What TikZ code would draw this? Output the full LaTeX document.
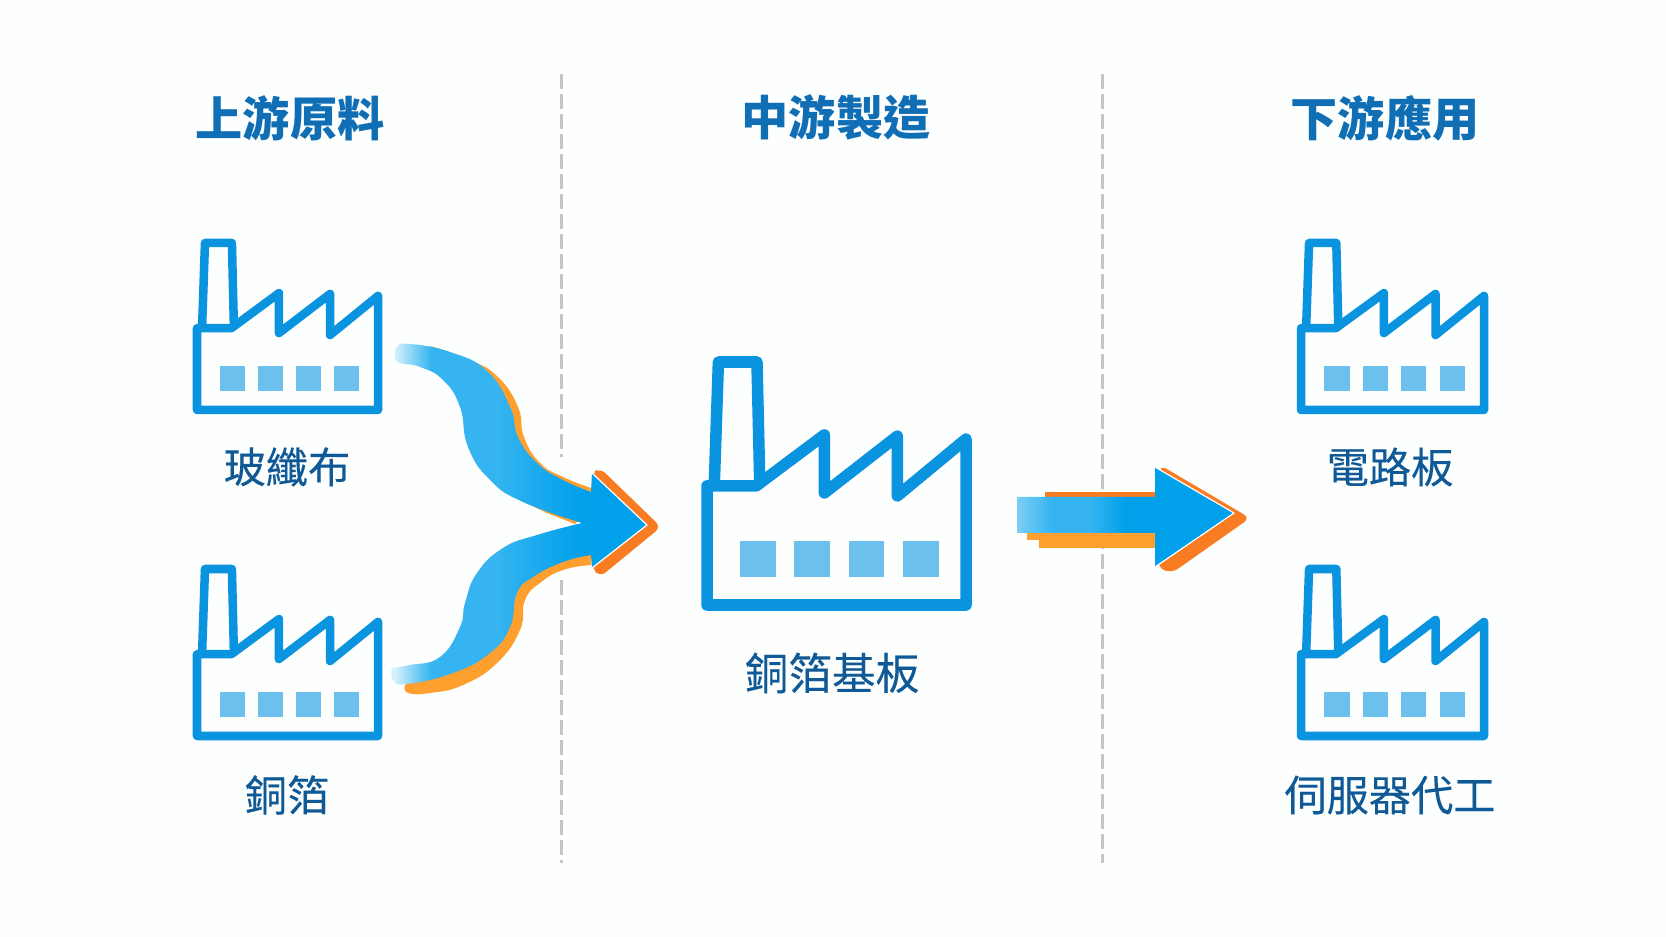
\documentclass[tikz,border=0pt]{standalone}
\usepackage{fontspec}
\setmainfont{Noto Sans CJK TC}
\newfontfamily\labelfont[FakeBold=.25]{Noto Sans CJK TC}
\definecolor{pagewhite}{HTML}{FDFEFE}
\definecolor{iconblue}{HTML}{0A93DF}
\definecolor{windowblue}{HTML}{6CC0EE}
\definecolor{flowblue}{HTML}{00A0EA}
\definecolor{flowsky}{HTML}{35B4F1}
\definecolor{flowpale}{HTML}{D4F0FC}
\definecolor{flowmid}{HTML}{7CCFF5}
\definecolor{floworange}{HTML}{FF9F2E}
\definecolor{headorange}{HTML}{F97B22}
\definecolor{titleblue}{HTML}{0F6EB4}
\definecolor{labelblue}{HTML}{0F5A96}
\definecolor{dashgray}{HTML}{C6C6C6}
\pgfdeclarehorizontalshading{mergeshade}{100bp}{color(0bp)=(flowpale); color(26bp)=(flowpale); color(33bp)=(flowsky); color(46bp)=(flowsky); color(62bp)=(flowblue); color(100bp)=(flowblue)}
\pgfdeclarehorizontalshading{straightshade}{100bp}{color(0bp)=(flowmid); color(25bp)=(flowmid); color(33bp)=(flowsky); color(42bp)=(flowsky); color(50bp)=(flowblue); color(100bp)=(flowblue)}
\tikzset{
  pics/factory/.style={code={
    \fill[windowblue] (.127,.114) rectangle (.265,.263);
    \fill[windowblue] (.337,.114) rectangle (.475,.263);
    \fill[windowblue] (.547,.114) rectangle (.685,.263);
    \fill[windowblue] (.757,.114) rectangle (.895,.263);
    \draw[iconblue,line join=round] (.028,.49)--(.044,1)--(.193,1)--(.204,.49);
    \draw[iconblue,line join=round] (0,0)--(0,.49)--(.19,.49)--(.453,.70)--(.453,.461)--(.735,.695)--(.735,.449)--(1,.683)--(1,0)--cycle;
  }},
  smallfactory/.style={xscale=#1,yscale=-167,line width=.085cm},
  smallfactory/.default=181,
  bigfactory/.style={xscale=259,yscale=-243,line width=.115cm},
  columntitle/.style={font=\bfseries\fontsize{13.4pt}{15pt}\selectfont,text=titleblue,inner sep=0pt},
  factorylabel/.style={font=\labelfont\fontsize{12pt}{14pt}\selectfont,text=labelblue,inner sep=0pt},
  columnrule/.style={dashgray,line width=.03cm,dash pattern=on .15cm off .05cm},
}
\begin{document}
\begin{tikzpicture}[x=.01cm,y=-.01cm,line join=round]
  \fill[pagewhite] (0,0) rectangle (1666,937);
  \useasboundingbox (0,0) rectangle (1666,937);
  % column rules
  \draw[columnrule] (561,74)--(561,457);
  \draw[columnrule] (561,580)--(561,863);
  \draw[columnrule] (1102,74)--(1102,863);
  % titles
  \node[columntitle] (upstream) at (290,118) {上游原料};
  \node[columntitle] (midstream) at (836,118) {中游製造};
  \node[columntitle] (downstream) at (1385,118) {下游應用};
  % factories
  \pic (fabric) [smallfactory] at (197,410) {factory};
  \pic (foil) [smallfactory] at (197,736) {factory};
  \pic (laminate) [bigfactory] at (707,605) {factory};
  \pic (board) [smallfactory=183] at (1301,410) {factory};
  \pic (server) [smallfactory=183] at (1301,736) {factory};
  \node[factorylabel] (fabriclabel) at (287,467) {玻纖布};
  \node[factorylabel] (foillabel) at (287,795) {銅箔};
  \node[factorylabel,font=\labelfont\fontsize{12.4pt}{14pt}\selectfont] (laminatelabel) at (832,673) {銅箔基板};
  \node[factorylabel] (boardlabel) at (1390,467) {電路板};
  \node[factorylabel] (serverlabel) at (1390,795) {伺服器代工};
  % merging arrow, orange first
  \fill[floworange] plot[smooth,tension=.8] coordinates {(430,346)(470,360)(498,377)(518,407)(524,437)(540,463)(563,477)(591,488)}
     --(591,510)--(575,524)--(547,513)--(520,500)--(503,453)--(487,387)--cycle;
  \fill[floworange] plot[smooth,tension=.8] coordinates {(591,565)(563,570)(540,583)(525,600)(520,630)(497,663)(463,685)(430,693)(408,693)(405,685)}
     --(470,650)--(500,590)--(591,545)--cycle;
  \fill[headorange,rounded corners=2pt] (600,468)--(661,527)--(600,577)--(592,568)--(592,473)--cycle;
  \shade[shading=mergeshade] plot[smooth,tension=.8] coordinates {(395,358)(397,347)(410,344)(450,352)(487,371)(510,407)(518,437)(537,463)(563,480)(591,492)}
     --(592,473)--(647,525)--(592,568)
     --plot[smooth,tension=.8] coordinates {(591,555)(563,562)(533,577)(517,593)(510,627)(490,653)(453,673)(407,684)(393,680)(392,668)}
     --plot[smooth,tension=.8] coordinates {(392,668)(410,665)(440,657)(460,627)(465,603)(477,573)(503,548)(537,535)(582,523)}
     --plot[smooth,tension=.8] coordinates {(582,523)(523,502)(490,480)(468,447)(460,407)(443,380)(420,367)(400,363)(395,358)}
     --cycle;
  \draw[white,line width=.012cm] (592,473)--(647,525)--(592,568);
  % straight arrow
  \fill[headorange] (1045,492) rectangle (1158,498);
  \fill[floworange] (1027,530)--(1027,540)--(1039,540)--(1039,548)--(1158,548)--(1158,530)--cycle;
  \fill[headorange,rounded corners=2pt] (1160,465)--(1250,518)--(1172,573)--(1158,568)--cycle;
  \shade[shading=straightshade] (1017,497)--(1155,497)--(1155,467)--(1234,513)--(1155,567)--(1155,533)--(1017,533)--cycle;
  \draw[white,line width=.012cm] (1155,467)--(1234,513)--(1155,567);
\end{tikzpicture}
\end{document}
